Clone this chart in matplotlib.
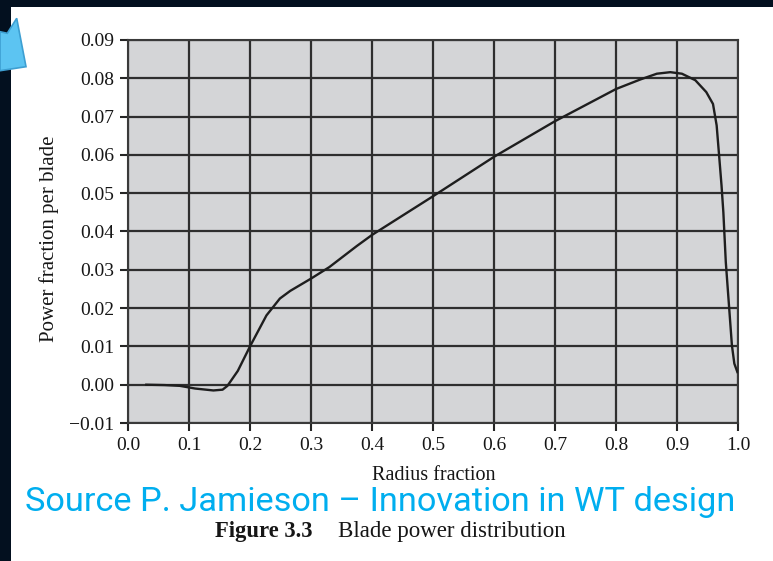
import matplotlib
matplotlib.use('Agg')
import matplotlib.pyplot as plt
from matplotlib.patches import Rectangle, Polygon

# radius fraction vs power fraction per blade
radius = [0.03, 0.06, 0.085, 0.11, 0.14, 0.155, 0.163, 0.18, 0.20, 0.227,
          0.249, 0.266, 0.30, 0.33, 0.375, 0.40, 0.50, 0.60, 0.70, 0.80,
          0.84, 0.867, 0.889, 0.908, 0.93, 0.948, 0.959, 0.965, 0.969,
          0.973, 0.976, 0.98, 0.986, 0.99, 0.994, 0.999]
power = [0.0, -0.0001, -0.0003, -0.001, -0.0015, -0.0013, -0.0003, 0.0036,
         0.0100, 0.0181, 0.0225, 0.0245, 0.0277, 0.0307, 0.0362, 0.0391,
         0.0492, 0.0595, 0.0688, 0.0772, 0.0797, 0.0812, 0.0816, 0.0812,
         0.0795, 0.0764, 0.0733, 0.0677, 0.0599, 0.0520, 0.045, 0.032,
         0.019, 0.0103, 0.0055, 0.0033]

xticks = [0.0, 0.1, 0.2, 0.3, 0.4, 0.5, 0.6, 0.7, 0.8, 0.9, 1.0]
yticks = [-0.01, 0.0, 0.01, 0.02, 0.03, 0.04, 0.05, 0.06, 0.07, 0.08, 0.09]
xticklabels = ['0.0', '0.1', '0.2', '0.3', '0.4', '0.5', '0.6', '0.7', '0.8', '0.9', '1.0']
yticklabels = ['\u22120.01', '0.00', '0.01', '0.02', '0.03', '0.04', '0.05',
               '0.06', '0.07', '0.08', '0.09']

W, H = 773, 561
serif = 'Liberation Serif'
ink = '#262626'
txt = '#161616'

fig = plt.figure(figsize=(W/100, H/100), dpi=100)
fig.patch.set_facecolor('white')

ax = fig.add_axes([128/W, 1-423/H, 610/W, 383/H])
ax.set_facecolor('#d4d5d7')
ax.plot(radius, power, color='#1e1e1e', lw=1.7, zorder=3)
ax.set_xlim(0, 1.0)
ax.set_ylim(-0.01, 0.09)
ax.set_xticks(xticks)
ax.set_yticks(yticks)
ax.set_xticklabels(xticklabels, fontfamily=serif, fontsize=14)
ax.set_yticklabels(yticklabels, fontfamily=serif, fontsize=14)
ax.tick_params(direction='out', length=6, width=1.5, color=ink, pad=4, labelcolor=txt)
ax.grid(True, color='#2e2e2e', lw=1.6, zorder=1)
ax.set_axisbelow(True)
for s in ax.spines.values():
    s.set_color('#3a3a3a')
    s.set_linewidth(1.5)

fig.text(434/W, 1-475/H, 'Radius fraction', family=serif, fontsize=14.5,
         ha='center', va='center', color=txt)
fig.text(49/W, 1-239/H, 'Power fraction per blade', family=serif, fontsize=15,
         rotation=90, ha='center', va='center', color=txt)

src = fig.text(25/W, 1-502/H, 'Source P. Jamieson \u2013 Innovation in WT design',
               family='Roboto', fontsize=24, color='#00aeef',
               ha='left', va='center')
# stretch the source line to its width in the reference
fig.canvas.draw()
w = src.get_window_extent().width
src.set_fontsize(24 * 713 / w)

fig.text(215/W, 1-532/H, 'Figure 3.3', family=serif, fontsize=16.3, weight='bold',
         ha='left', va='center', color=txt)
fig.text(338/W, 1-532/H, 'Blade power distribution', family=serif, fontsize=16.5,
         ha='left', va='center', color=txt)

# dark slide border and arrow
fig.patches.append(Rectangle((0, 1-7/H), 1, 7/H, transform=fig.transFigure,
                             facecolor='#03101f', edgecolor='none', zorder=5))
fig.patches.append(Rectangle((0, 0), 11/W, 1, transform=fig.transFigure,
                             facecolor='#03101f', edgecolor='none', zorder=5))
pts = [(0, 31.7), (7.3, 33.3), (16.7, 18.3), (26, 66.7), (0, 70.7)]
fig.patches.append(Polygon([(x/W, 1-y/H) for x, y in pts], closed=True,
                           transform=fig.transFigure, facecolor='#5cc4f2',
                           edgecolor='#3d9fd2', lw=1.2, zorder=6))

fig.savefig('out.png', dpi=100)
